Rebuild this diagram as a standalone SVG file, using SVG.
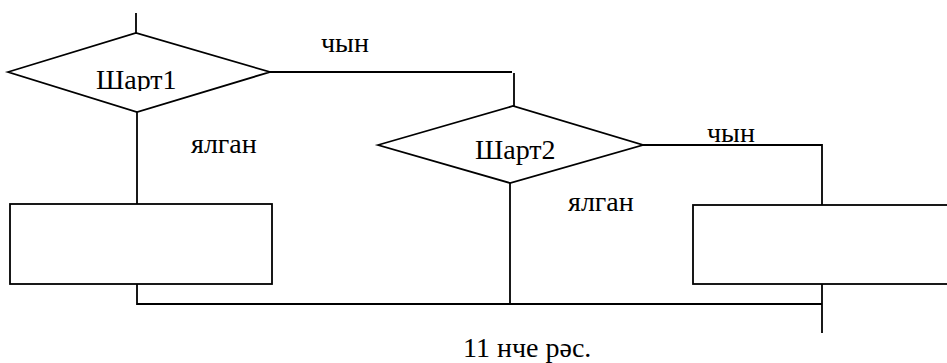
<svg xmlns="http://www.w3.org/2000/svg" width="947" height="363" viewBox="0 0 947 363">
<style>
.s{fill:#fff;stroke:#000;stroke-width:1.8}
.c{fill:none;stroke:#000;stroke-width:1.8}
text{font-family:'Liberation Serif','Times New Roman',serif !important;font-size:28px;fill:#000}
</style>
<defs>
<clipPath id="cl1"><rect x="0" y="0" width="300" height="91"/></clipPath>
<clipPath id="cl2"><rect x="360" y="100" width="300" height="162"/></clipPath>
</defs>
<rect width="947" height="363" fill="#fff"/>
<g id="connectors">
<path class="c" d="M136,13V33"/>
<path class="c" d="M270,72H512"/>
<path class="c" d="M514,73V106"/>
<path class="c" d="M137,112V204"/>
<path class="c" d="M643,145H822V205"/>
<path class="c" d="M510,183V304"/>
<path class="c" d="M137,284V304H822"/>
<path class="c" d="M822,284V333"/>
</g>
<g id="cond1" font-family="Liberation Serif">
<polygon class="s" points="8,72 136,33 270,72 137,112"/>
<text x="96" y="89" clip-path="url(#cl1)">Шарт1</text>
</g>
<g id="cond2" font-family="Liberation Serif">
<polygon class="s" points="378,145 513,106 643,145 510,183"/>
<text x="475" y="159" clip-path="url(#cl2)">Шарт2</text>
</g>
<g id="box1">
<rect class="s" x="10" y="204" width="262" height="80"/>
</g>
<g id="box2">
<rect class="s" x="693" y="205" width="280" height="79"/>
</g>
<g id="labels" font-family="Liberation Serif">
<text x="321" y="52">чын</text>
<text x="707" y="142">чын</text>
<text x="191" y="153">ялган</text>
<text x="568" y="211">ялган</text>
<text x="463" y="357">11 нче рәс.</text>
</g>
</svg>
